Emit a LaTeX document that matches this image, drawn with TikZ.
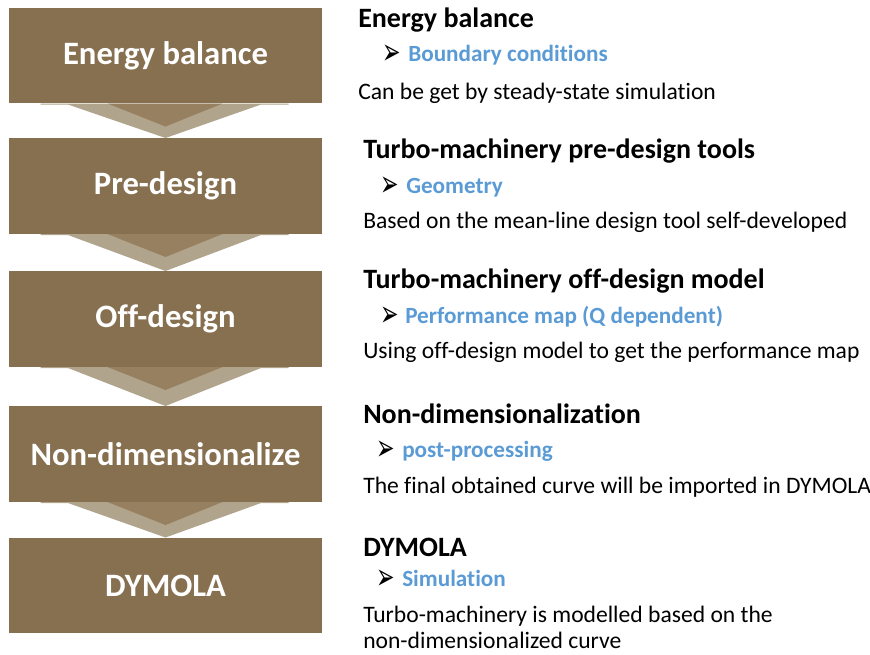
\documentclass[tikz,border=0pt]{standalone}
\usepackage{fontspec}
\setmainfont{Carlito}[Ligatures=NoCommon]
\newfontfamily\symfont{DejaVu Sans}
\usetikzlibrary{calc}
\definecolor{boxbrown}{RGB}{134,112,80}
\definecolor{chevlight}{RGB}{177,164,140}
\definecolor{chevdark}{RGB}{150,128,96}
\definecolor{accentblue}{RGB}{91,155,213}
\newcommand{\bulletarrow}{\scalebox{0.72}[1.2]{\symfont\bfseries ➢}}
\begin{document}
\begin{tikzpicture}[x=0.75pt,y=-0.75pt,
  stagebox/.style={fill=boxbrown,draw=none,text=white,
    minimum width=234.75pt,minimum height=71.6pt,inner sep=0pt,
    font=\fontsize{24.5}{29}\selectfont\bfseries},
  heading/.style={anchor=base west,inner sep=0pt,font=\fontsize{21}{25}\selectfont\bfseries},
  bullettext/.style={anchor=base west,inner sep=0pt,text=accentblue,font=\fontsize{17.4}{21}\selectfont\bfseries},
  bulletmark/.style={anchor=base west,inner sep=0pt,font=\fontsize{23}{25}\selectfont},
  bodytext/.style={anchor=base west,inner sep=0pt,font=\fontsize{17.7}{19.5}\selectfont},
  chevouter/.style={fill=chevlight,draw=none},
  chevinner/.style={fill=chevdark,draw=none}]
\useasboundingbox (0,0) rectangle (870,654);

% process stages
\node[stagebox] (b1) at (165.5,55.5) {Energy balance};
\node[stagebox] (b2) at (165.5,186) {Pre-design};
\node[stagebox] (b3) at (165.5,319) {Off-design};
\node[stagebox] (b4) at (165.5,454) {Non-dimensionalize};
\node[stagebox] (b5) at (165.5,585.5) {DYMOLA};

% chevrons linking consecutive stages
\foreach \a/\b in {b1/b2,b2/b3,b3/b4,b4/b5}{
  \fill[chevouter] ($(\a.south)+(-125,0)$) -- ($(\a.south)+(123,0)$) -- ($(\a.south)+(123,1.2)$)
    -- ($(\a.south)+(95,1.2)$) -- (\b.north) -- ($(\a.south)+(-97,1.2)$) -- ($(\a.south)+(-125,1.2)$) -- cycle;
  \fill[chevinner] ($(\a.south)+(-58,0)$) -- ($(\a.south)+(57,0)$) -- ($(\a.south)+(0,23)$) -- cycle;
}

% descriptions
\node[heading] (h1) at (358,27) {Energy balance};
\node[bulletmark] (m1) at (382,64) {\bulletarrow};
\node[bullettext] (t1) at (408,61) {Boundary conditions};
\node[bodytext] (d1) at (358,99) {Can be get by steady-state simulation};

\node[heading] (h2) at (363,158) {Turbo-machinery pre-design tools};
\node[bulletmark] (m2) at (380,196) {\bulletarrow};
\node[bullettext] (t2) at (406,193) {Geometry};
\node[bodytext] (d2) at (363,228) {Based on the mean-line design tool self-developed};

\node[heading] (h3) at (363,288) {Turbo-machinery off-design model};
\node[bulletmark] (m3) at (380,326) {\bulletarrow};
\node[bullettext] (t3) at (405,323) {Performance map (Q dependent)};
\node[bodytext] (d3) at (363,358) {Using off-design model to get the performance map};

\node[heading] (h4) at (363,423) {Non-dimensionalization};
\node[bulletmark] (m4) at (376,460) {\bulletarrow};
\node[bullettext] (t4) at (402,457) {post-processing};
\node[bodytext] (d4) at (363,493) {The final obtained curve will be imported in DYMOLA};

\node[heading] (h5) at (363,556) {DYMOLA};
\node[bulletmark] (m5) at (376,589) {\bulletarrow};
\node[bullettext] (t5) at (402,586) {Simulation};
\node[bodytext] (d5) at (363,622) {Turbo-machinery is modelled based on the};
\node[bodytext] (d5b) at (363,648) {non-dimensionalized curve};
\end{tikzpicture}
\end{document}
